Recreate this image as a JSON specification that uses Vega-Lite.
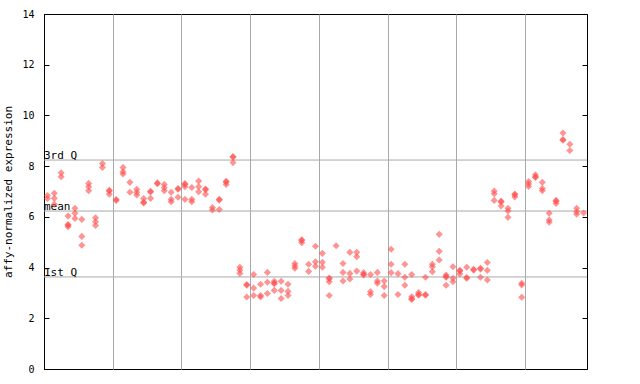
{
  "$schema": "https://vega.github.io/schema/vega-lite/v6.json",
  "width": 543,
  "height": 355,
  "autosize": "none",
  "padding": {"left": 44, "top": 14, "right": 53, "bottom": 15},
  "background": "#ffffff",
  "config": {"view": {"stroke": "#000000", "strokeWidth": 1}, "font": "DejaVu Sans Mono"},
  "datasets": {
    "quant": [
      {"q": "3rd Q", "v": 8.24},
      {"q": "mean", "v": 6.23},
      {"q": "1st Q", "v": 3.63}
    ],
    "pts": [
      {"s": 1, "v": 6.84}, {"s": 1, "v": 6.72},
      {"s": 2, "v": 6.93}, {"s": 2, "v": 6.73}, {"s": 2, "v": 6.5},
      {"s": 3, "v": 7.74}, {"s": 3, "v": 7.58},
      {"s": 4, "v": 6.03}, {"s": 4, "v": 5.70}, {"s": 4, "v": 5.67}, {"s": 4, "v": 5.61},
      {"s": 5, "v": 6.34}, {"s": 5, "v": 6.14}, {"s": 5, "v": 5.94},
      {"s": 6, "v": 5.90}, {"s": 6, "v": 5.23}, {"s": 6, "v": 4.88},
      {"s": 7, "v": 7.32}, {"s": 7, "v": 7.19}, {"s": 7, "v": 7.03},
      {"s": 8, "v": 5.96}, {"s": 8, "v": 5.81}, {"s": 8, "v": 5.66},
      {"s": 9, "v": 8.10}, {"s": 9, "v": 7.95},
      {"s": 10, "v": 7.05}, {"s": 10, "v": 7.02}, {"s": 10, "v": 6.89},
      {"s": 11, "v": 6.68}, {"s": 11, "v": 6.65},
      {"s": 12, "v": 7.95}, {"s": 12, "v": 7.78}, {"s": 12, "v": 7.69},
      {"s": 13, "v": 7.36}, {"s": 13, "v": 6.97},
      {"s": 14, "v": 7.09}, {"s": 14, "v": 6.97}, {"s": 14, "v": 6.86},
      {"s": 15, "v": 6.72}, {"s": 15, "v": 6.58}, {"s": 15, "v": 6.55},
      {"s": 16, "v": 7.01}, {"s": 16, "v": 6.98}, {"s": 16, "v": 6.73},
      {"s": 17, "v": 7.34}, {"s": 17, "v": 7.31},
      {"s": 18, "v": 7.28}, {"s": 18, "v": 7.15}, {"s": 18, "v": 7.03},
      {"s": 19, "v": 6.97}, {"s": 19, "v": 6.69}, {"s": 19, "v": 6.60},
      {"s": 20, "v": 7.12}, {"s": 20, "v": 7.09}, {"s": 20, "v": 6.77},
      {"s": 21, "v": 7.31}, {"s": 21, "v": 7.28}, {"s": 21, "v": 7.19}, {"s": 21, "v": 6.69},
      {"s": 22, "v": 7.16}, {"s": 22, "v": 6.69}, {"s": 22, "v": 6.60},
      {"s": 23, "v": 7.41}, {"s": 23, "v": 7.19}, {"s": 23, "v": 6.99},
      {"s": 24, "v": 7.10}, {"s": 24, "v": 7.07}, {"s": 24, "v": 6.89},
      {"s": 25, "v": 6.37}, {"s": 25, "v": 6.27},
      {"s": 26, "v": 6.69}, {"s": 26, "v": 6.66}, {"s": 26, "v": 6.29},
      {"s": 27, "v": 7.40}, {"s": 27, "v": 7.37}, {"s": 27, "v": 7.28},
      {"s": 28, "v": 8.38}, {"s": 28, "v": 8.35}, {"s": 28, "v": 8.14},
      {"s": 29, "v": 4.01}, {"s": 29, "v": 3.90}, {"s": 29, "v": 3.77},
      {"s": 30, "v": 3.33}, {"s": 30, "v": 3.30}, {"s": 30, "v": 2.84},
      {"s": 31, "v": 3.73}, {"s": 31, "v": 3.19}, {"s": 31, "v": 2.90},
      {"s": 32, "v": 3.34}, {"s": 32, "v": 2.90}, {"s": 32, "v": 2.84},
      {"s": 33, "v": 3.81}, {"s": 33, "v": 3.42}, {"s": 33, "v": 2.98},
      {"s": 34, "v": 3.46}, {"s": 34, "v": 3.39}, {"s": 34, "v": 3.36}, {"s": 34, "v": 3.10},
      {"s": 35, "v": 3.46}, {"s": 35, "v": 3.10}, {"s": 35, "v": 2.78},
      {"s": 36, "v": 3.34}, {"s": 36, "v": 3.06}, {"s": 36, "v": 2.90},
      {"s": 37, "v": 4.16}, {"s": 37, "v": 4.06}, {"s": 37, "v": 3.97},
      {"s": 38, "v": 5.10}, {"s": 38, "v": 5.07}, {"s": 38, "v": 4.98},
      {"s": 39, "v": 4.13}, {"s": 39, "v": 3.85},
      {"s": 40, "v": 4.84}, {"s": 40, "v": 4.23}, {"s": 40, "v": 4.05},
      {"s": 41, "v": 4.56}, {"s": 41, "v": 4.21}, {"s": 41, "v": 4.01},
      {"s": 42, "v": 3.59}, {"s": 42, "v": 3.56}, {"s": 42, "v": 3.44}, {"s": 42, "v": 2.90},
      {"s": 43, "v": 4.86},
      {"s": 44, "v": 4.16}, {"s": 44, "v": 3.81}, {"s": 44, "v": 3.47},
      {"s": 45, "v": 4.60}, {"s": 45, "v": 3.77}, {"s": 45, "v": 3.55},
      {"s": 46, "v": 4.60}, {"s": 46, "v": 4.43}, {"s": 46, "v": 3.86},
      {"s": 47, "v": 3.80}, {"s": 47, "v": 3.74}, {"s": 47, "v": 3.71},
      {"s": 48, "v": 3.73}, {"s": 48, "v": 3.05}, {"s": 48, "v": 2.94},
      {"s": 49, "v": 3.81}, {"s": 49, "v": 3.47}, {"s": 49, "v": 3.38},
      {"s": 50, "v": 3.47}, {"s": 50, "v": 3.25}, {"s": 50, "v": 2.90},
      {"s": 51, "v": 4.72}, {"s": 51, "v": 4.13}, {"s": 51, "v": 3.80},
      {"s": 52, "v": 3.76}, {"s": 52, "v": 2.94},
      {"s": 53, "v": 4.13}, {"s": 53, "v": 3.62}, {"s": 53, "v": 3.30},
      {"s": 54, "v": 3.73}, {"s": 54, "v": 2.85}, {"s": 54, "v": 2.77}, {"s": 54, "v": 2.74},
      {"s": 55, "v": 3.02}, {"s": 55, "v": 2.94}, {"s": 55, "v": 2.91},
      {"s": 56, "v": 3.62}, {"s": 56, "v": 2.94}, {"s": 56, "v": 2.91},
      {"s": 57, "v": 4.13}, {"s": 57, "v": 4.03}, {"s": 57, "v": 3.84},
      {"s": 58, "v": 5.31}, {"s": 58, "v": 4.64}, {"s": 58, "v": 4.30},
      {"s": 59, "v": 3.71}, {"s": 59, "v": 3.65}, {"s": 59, "v": 3.62}, {"s": 59, "v": 3.30},
      {"s": 60, "v": 4.03}, {"s": 60, "v": 3.58}, {"s": 60, "v": 3.44},
      {"s": 61, "v": 3.89}, {"s": 61, "v": 3.86}, {"s": 61, "v": 3.75},
      {"s": 62, "v": 4.01}, {"s": 62, "v": 3.61}, {"s": 62, "v": 3.58},
      {"s": 63, "v": 3.93}, {"s": 63, "v": 3.90},
      {"s": 64, "v": 3.97}, {"s": 64, "v": 3.94}, {"s": 64, "v": 3.62},
      {"s": 65, "v": 4.20}, {"s": 65, "v": 3.89}, {"s": 65, "v": 3.51},
      {"s": 66, "v": 7.02}, {"s": 66, "v": 6.91}, {"s": 66, "v": 6.65},
      {"s": 67, "v": 6.62}, {"s": 67, "v": 6.59}, {"s": 67, "v": 6.43},
      {"s": 68, "v": 6.34}, {"s": 68, "v": 6.23}, {"s": 68, "v": 5.98},
      {"s": 69, "v": 6.90}, {"s": 69, "v": 6.87}, {"s": 69, "v": 6.78},
      {"s": 70, "v": 3.38}, {"s": 70, "v": 3.31}, {"s": 70, "v": 2.83},
      {"s": 71, "v": 7.39}, {"s": 71, "v": 7.30}, {"s": 71, "v": 7.20},
      {"s": 72, "v": 7.66}, {"s": 72, "v": 7.58}, {"s": 72, "v": 7.55},
      {"s": 73, "v": 7.36}, {"s": 73, "v": 7.12}, {"s": 73, "v": 7.03},
      {"s": 74, "v": 6.14}, {"s": 74, "v": 5.88}, {"s": 74, "v": 5.79},
      {"s": 75, "v": 6.65}, {"s": 75, "v": 6.62}, {"s": 75, "v": 6.53},
      {"s": 76, "v": 9.31}, {"s": 76, "v": 9.05}, {"s": 76, "v": 9.02},
      {"s": 77, "v": 8.86}, {"s": 77, "v": 8.62},
      {"s": 78, "v": 6.34}, {"s": 78, "v": 6.20}, {"s": 78, "v": 6.10},
      {"s": 79, "v": 6.15}
    ]
  },
  "layer": [
    {
      "data": {"name": "quant"},
      "mark": {"type": "rule", "color": "#a9a9a9", "strokeWidth": 1},
      "encoding": {
        "y": {
          "field": "v", "type": "quantitative",
          "scale": {"domain": [0, 14], "nice": false, "zero": true},
          "axis": {
            "orient": "right", "values": [0, 2, 4, 6, 8, 10, 12, 14],
            "labels": false, "title": null, "grid": false,
            "domain": false, "tickColor": "#000000", "tickSize": -5, "tickWidth": 1
          }
        }
      }
    },
    {
      "data": {"name": "quant"},
      "mark": {"type": "text", "align": "left", "baseline": "alphabetic", "dy": -1, "dx": 0, "font": "DejaVu Sans Mono", "fontSize": 11, "color": "#000000"},
      "encoding": {
        "x": {"datum": 0.5, "type": "quantitative"},
        "y": {"field": "v", "type": "quantitative", "axis": null},
        "text": {"field": "q"}
      }
    },
    {
      "data": {"name": "pts"},
      "mark": {"type": "point", "shape": "diamond", "filled": true, "size": 50, "color": "#ff4d4d", "opacity": 0.6, "strokeWidth": 0},
      "encoding": {
        "x": {
          "field": "s", "type": "quantitative",
          "scale": {"domain": [0.5, 79.5], "nice": false, "zero": false},
          "axis": {
            "values": [10.5, 20.5, 30.5, 40.5, 50.5, 60.5, 70.5],
            "grid": true, "gridColor": "#a9a9a9", "gridOpacity": 1, "gridWidth": 1,
            "labels": false, "ticks": false, "domain": false, "title": null
          }
        },
        "y": {
          "field": "v", "type": "quantitative",
          "axis": {
            "orient": "left", "values": [0, 2, 4, 6, 8, 10, 12, 14],
            "grid": false, "domain": true, "domainColor": "#000000",
            "tickColor": "#000000", "tickSize": -5, "tickWidth": 1,
            "labelPadding": 15, "labelFont": "DejaVu Sans Mono", "labelFontSize": 10, "labelColor": "#000000",
            "title": "affy-normalized expression", "titleFont": "DejaVu Sans Mono",
            "titleFontSize": 11, "titleFontWeight": "normal", "titleColor": "#000000", "titlePadding": 8
          }
        }
      }
    }
  ],
  "resolve": {"axis": {"y": "independent"}}
}
